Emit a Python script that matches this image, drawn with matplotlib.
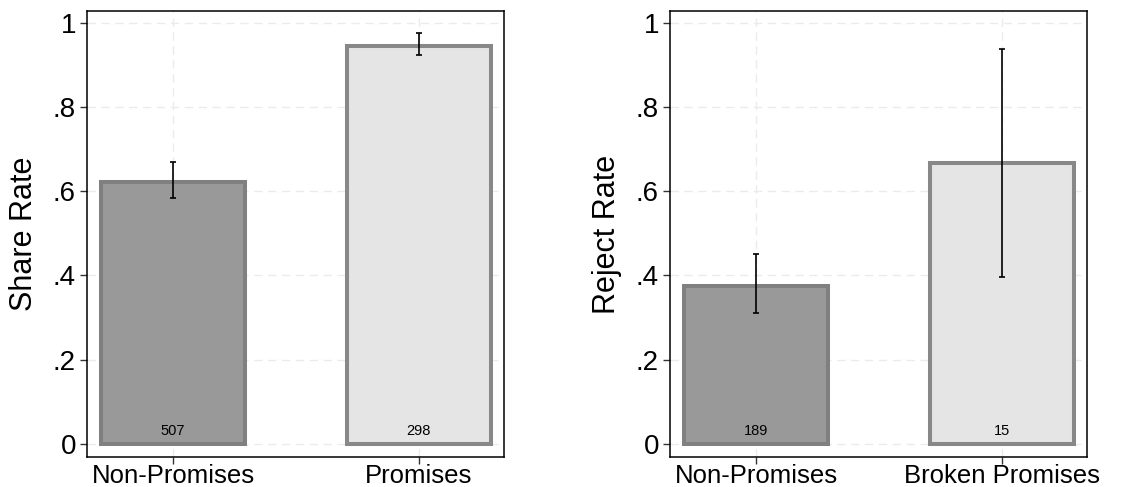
import matplotlib
matplotlib.use("Agg")
import matplotlib.pyplot as plt
import numpy as np

plt.rcParams['font.family'] = ['Liberation Sans', 'DejaVu Sans']

left_cats = ["Non-Promises", "Promises"]
left_vals = [0.621, 0.946]
left_lo = [0.584, 0.924]
left_hi = [0.669, 0.975]
left_n = ["507", "298"]
left_ylabel = "Share Rate"

right_cats = ["Non-Promises", "Broken Promises"]
right_vals = [0.376, 0.667]
right_lo = [0.310, 0.396]
right_hi = [0.451, 0.9375]
right_n = ["189", "15"]
right_ylabel = "Reject Rate"

yticks = [0, 0.2, 0.4, 0.6, 0.8, 1.0]
yticklabels = ["0", ".2", ".4", ".6", ".8", "1"]

fill_colors = ["#999999", "#e5e5e5"]
edge_colors = ["#808080", "#888888"]

W, H = 1139, 487
fig = plt.figure(figsize=(W / 100, H / 100), dpi=100)

def panel(left_px, cats, vals, lo, hi, ns, ylabel):
    ax = fig.add_axes([left_px / W, (H - 457) / H, 417 / W, 446 / H])
    x = np.arange(len(cats))
    ax.bar(x, vals, width=0.585, color=fill_colors, edgecolor=edge_colors,
           linewidth=2.9, zorder=2)
    vals_a = np.array(vals)
    yerr = np.vstack([vals_a - np.array(lo), np.array(hi) - vals_a])
    ax.errorbar(x, vals, yerr=yerr, fmt='none', ecolor='black', elinewidth=1.2,
                capsize=2.5, capthick=1.2, zorder=3)
    for xi, n in zip(x, ns):
        ax.text(xi, 0.014, n, ha='center', va='bottom', fontsize=10.5, zorder=4)
    ax.set_xlim(-0.35, 1.346)
    ax.set_ylim(-0.031, 1.028)
    ax.set_yticks(yticks)
    ax.set_yticklabels(yticklabels, fontsize=20)
    ax.set_xticks(x)
    ax.set_xticklabels(cats, fontsize=18.5)
    ax.set_ylabel(ylabel, fontsize=22, labelpad=10)
    ax.grid(True, color='#ebebeb', linestyle=(0, (6, 4)), linewidth=1.0, zorder=0)
    ax.set_axisbelow(True)
    ax.tick_params(axis='both', direction='out', length=5, width=1.0, color='#333333')
    ax.tick_params(axis='y', pad=3)
    ax.tick_params(axis='x', pad=0)
    for s in ax.spines.values():
        s.set_linewidth(1.1)
        s.set_color('black')
    return ax

panel(87, left_cats, left_vals, left_lo, left_hi, left_n, left_ylabel)
panel(670, right_cats, right_vals, right_lo, right_hi, right_n, right_ylabel)

fig.savefig("out.png", dpi=100)
